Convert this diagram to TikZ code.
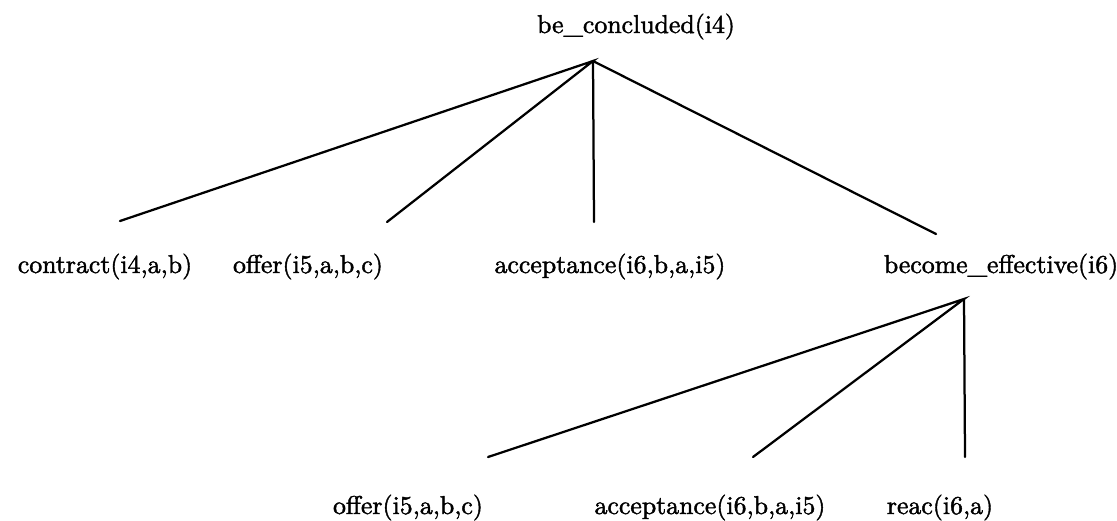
\documentclass[tikz,border=0pt]{standalone}
\usepackage{fontspec}
\newfontfamily\treefont{Latin Modern Roman}[FakeBold=1.6]
\begin{document}
\begin{tikzpicture}[x=0.4pt,y=-0.4pt,
  lbl/.style={anchor=base,inner sep=0pt,font=\treefont\fontsize{10.32}{12}\selectfont},
  edge/.style={line width=0.9pt,line cap=round}]
\useasboundingbox (0,0) rectangle (1117,520);
% labels
\node[lbl] (root) at (636,33) {be\_concluded(i4)};
\node[lbl] (contract) at (105,273) {contract(i4,a,b)};
\node[lbl] (offerA) at (308,273) {offer(i5,a,b,c)};
\node[lbl] (accA) at (610,273) {acceptance(i6,b,a,i5)};
\node[lbl] (become) at (1001,273) {become\_effective(i6)};
\node[lbl] (offerB) at (408,514) {offer(i5,a,b,c)};
\node[lbl] (accB) at (710,514) {acceptance(i6,b,a,i5)};
\node[lbl] (reac) at (940,514) {reac(i6,a)};
% branch points
\coordinate (apexA) at (593,61);
\coordinate (e1) at (120,221);
\coordinate (e2) at (387,222);
\coordinate (e3) at (594,222);
\coordinate (e4) at (936,234);
\coordinate (apexB) at (964,299);
\coordinate (f1) at (488,457);
\coordinate (f2) at (753,457);
\coordinate (f3) at (965,457);
\draw[edge] (e1) -- (apexA) -- (e2);
\draw[edge] (apexA) -- (e3);
\draw[edge] (apexA) -- (e4);
\draw[edge] (f1) -- (apexB) -- (f2);
\draw[edge] (apexB) -- (f3);
\end{tikzpicture}
\end{document}
